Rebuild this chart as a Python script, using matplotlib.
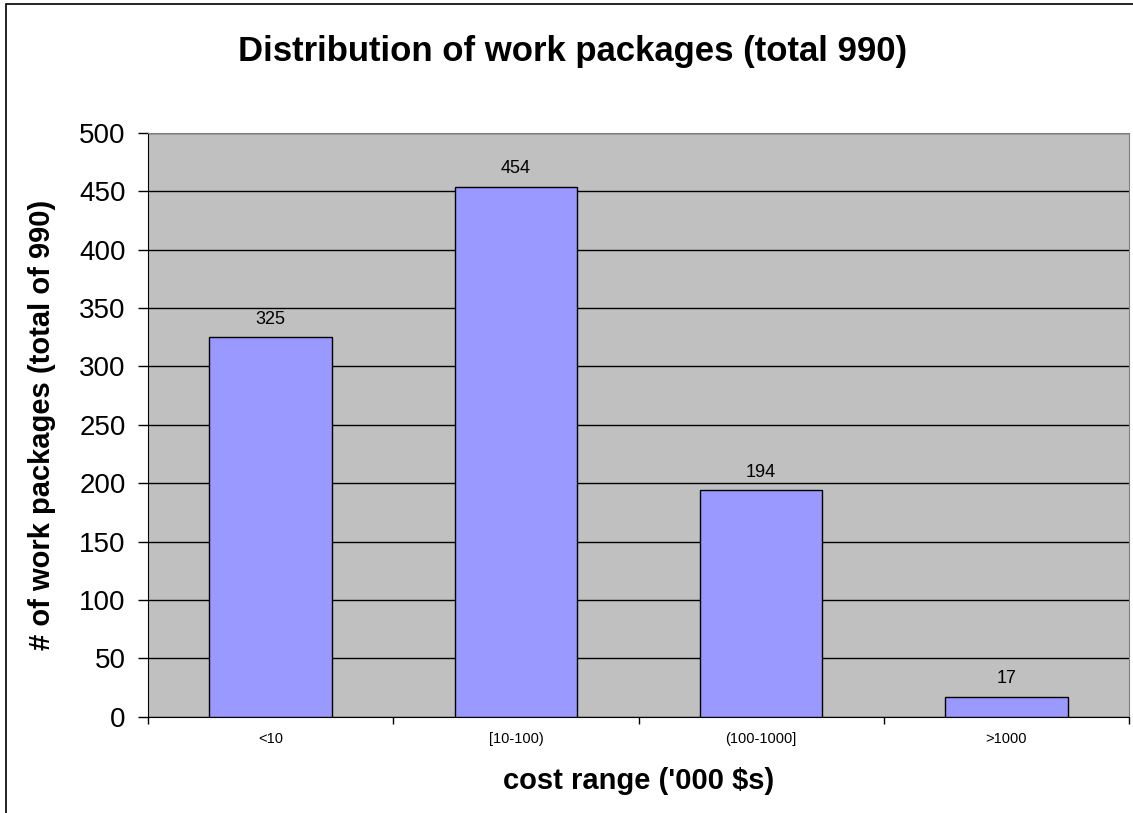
import matplotlib.pyplot as plt
import matplotlib.patches as mpatches
import numpy as np

# Chart data
categories = ["<10", "[10-100)", "(100-1000]", ">1000"]
counts = [325, 454, 194, 17]

plt.rcParams["font.family"] = ["Liberation Sans", "DejaVu Sans"]

fig = plt.figure(figsize=(11.33, 8.13), dpi=100)
ax = fig.add_axes([148 / 1133, 96.3 / 813, 981 / 1133, 583.7 / 813])

# outer chart frame (clipped by the image edges on right/bottom)
fig.patches.append(mpatches.Rectangle((6 / 1133, -0.1), 1.2, (813 - 4) / 813 + 0.1,
                                      transform=fig.transFigure, fill=False,
                                      edgecolor="#000000", linewidth=1.2))

ax.set_facecolor("#C0C0C0")
x = np.arange(len(categories))
bars = ax.bar(x, counts, width=0.5, color="#9999FF", edgecolor="#000000",
              linewidth=1.0, zorder=3)

for xi, v in zip(x, counts):
    ax.annotate(str(v), (xi, v), xytext=(0, 7), textcoords="offset points",
                ha="center", va="bottom", fontsize=13)

ax.set_xlim(-0.5, len(categories) - 0.5)
ax.set_ylim(0, 500)
ax.set_yticks(np.arange(0, 501, 50))
ax.yaxis.grid(True, color="#000000", linewidth=1.0, zorder=1)
ax.set_axisbelow(True)

ax.set_xticks(x)
ax.set_xticklabels(categories, fontsize=10.5)
ax.set_xticks(np.arange(-0.5, len(categories), 1.0), minor=True)
ax.tick_params(axis="x", which="major", length=0, pad=11)
ax.tick_params(axis="x", which="minor", length=5, width=1, direction="out")
ax.tick_params(axis="y", length=7, width=1, direction="out", labelsize=20, pad=9)

for side in ["top", "right"]:
    ax.spines[side].set_color("#808080")
for side in ["left", "bottom"]:
    ax.spines[side].set_color("#000000")

ax.set_xlabel("cost range ('000 $s)", fontsize=21, fontweight="bold", labelpad=15)
ax.set_ylabel("# of work packages (total of 990)", fontsize=21, fontweight="bold", labelpad=17)

fig.text(573 / 1133, 1 - 51 / 813, "Distribution of work packages (total 990)",
         ha="center", va="center", fontsize=25, fontweight="bold")

plt.savefig("out.png", dpi=100)
